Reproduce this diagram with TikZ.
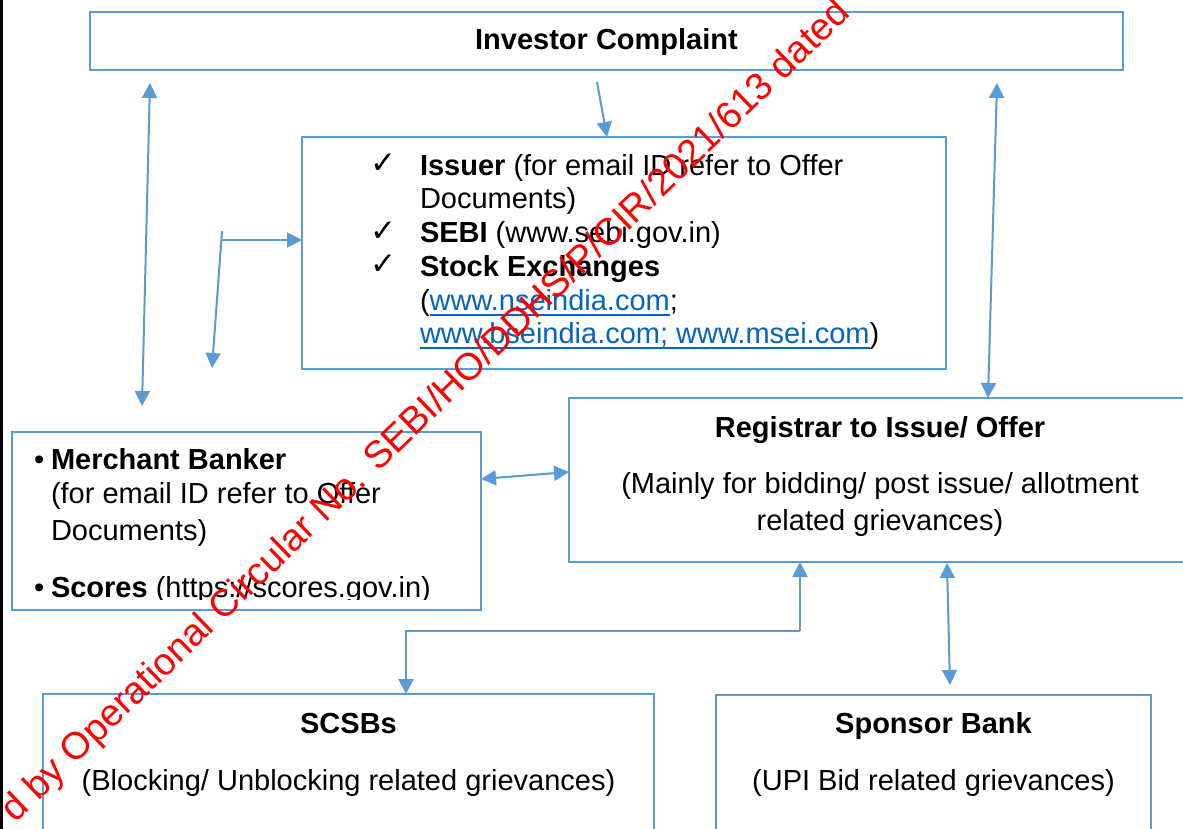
\documentclass[tikz,border=0pt]{standalone}
\usepackage{fontspec}
\setmainfont{Liberation Sans}
\newfontfamily\symfont{DejaVu Sans}
\usetikzlibrary{arrows.meta,calc}
\definecolor{boxblue}{HTML}{5B9BD5}
\definecolor{linkblue}{HTML}{0563C1}
\newsavebox{\linkbox}
\newcommand{\weblink}[1]{{\color{linkblue}\sbox{\linkbox}{#1}\rlap{\vrule width\wd\linkbox height -4pt depth 6.2pt}\usebox{\linkbox}}}
\begin{document}
\begin{tikzpicture}[x=1pt,y=-1pt,
  every node/.style={inner sep=0pt, outer sep=0pt, font=\fontsize{29}{34}\selectfont},
  box/.style={draw=boxblue, line width=2.5pt, anchor=north west},
  arr/.style={draw=boxblue, line width=2pt, -{Triangle[length=15pt,width=15pt]}},
  darr/.style={draw=boxblue, line width=2pt, {Triangle[length=15pt,width=15pt]}-{Triangle[length=15pt,width=15pt]}},
  txt/.style={anchor=base west},
  ctxt/.style={anchor=base},
  ck/.style={anchor=base west, font=\symfont\fontsize{31}{34}\selectfont},
]
\useasboundingbox (0,0) rectangle (1183,829);
\clip (0,0) rectangle (1183,829);
\fill[white] (0,0) rectangle (1183,829);

% left page border
\draw[line width=2.5pt] (1.25,0) -- (1.25,829);

% Investor Complaint
\node[box, minimum width=1033pt, minimum height=58pt] (ic) at (90,12) {};
\node[ctxt] (icT) at (606.5,50) {\bfseries Investor Complaint};

% Issuer box
\node[box, minimum width=644pt, minimum height=232pt] (iss) at (302,137) {};
\node[ck] (ck1) at (370,174) {✓};
\node[txt] (is1) at (420,176) {\textbf{Issuer} (for email ID refer to Offer};
\node[txt] (is2) at (420,209) {Documents)};
\node[ck] (ck2) at (370,241) {✓};
\node[txt] (is3) at (420,243) {\textbf{SEBI} (www.sebi.gov.in)};
\node[ck] (ck3) at (370,274) {✓};
\node[txt] (is4) at (420,276) {\textbf{Stock Exchanges}};
\node[txt] (is5) at (420,310) {(\weblink{www.nseindia.com};};
\node[txt] (is6) at (420,343) {\weblink{www.bseindia.com; www.msei.com})};

% Merchant banker box
\node[box, minimum width=469pt, minimum height=178pt] (mb) at (12,432) {};
\node[txt] (mbB1) at (34,469) {•};
\node[txt] (mb1) at (51,469) {\textbf{Merchant Banker}};
\node[txt] (mb2) at (51,503) {(for email ID refer to Offer};
\node[txt] (mb3) at (51,540) {Documents)};
\begin{scope}
  \clip (20,560) rectangle (478,599);
  \node[txt] (mbB2) at (34,597) {•};
  \node[txt] (mb4) at (51,597) {\textbf{Scores} (https://scores.gov.in)};
\end{scope}

% Registrar box
\node[box, minimum width=622pt, minimum height=164pt] (reg) at (569,398) {};
\node[ctxt] (reg1) at (880,437) {\bfseries Registrar to Issue/ Offer};
\node[ctxt] (reg2) at (880,493) {(Mainly for bidding/ post issue/ allotment};
\node[ctxt] (reg3) at (880,530) {related grievances)};

% SCSBs box
\node[box, minimum width=611pt, minimum height=160pt] (scsb) at (43,694) {};
\node[ctxt] (scsb1) at (348.5,733) {\bfseries SCSBs};
\node[ctxt] (scsb2) at (348.5,790) {(Blocking/ Unblocking related grievances)};

% Sponsor bank box
\node[box, minimum width=435pt, minimum height=160pt] (spb) at (716,695) {};
\node[ctxt] (spb1) at (933.5,733) {\bfseries Sponsor Bank};
\node[ctxt] (spb2) at (933.5,790) {(UPI Bid related grievances)};

% connectors
\coordinate (a1s) at (597,82);
\draw[arr] (a1s) -- ($(iss.north west)+(305,0)$);

\coordinate (a2t) at (150,83);
\coordinate (a2b) at (142,406);
\draw[darr] (a2t) -- (a2b);

\coordinate (e1) at (222,231);
\coordinate (e1d) at (212,368);
\coordinate (e1h) at (221,240);
\draw[arr] (e1) -- (e1d);
\draw[arr] (e1h) -- (e1h -| iss.west);

\coordinate (a4t) at (997,83);
\draw[darr] (a4t) -- ($(reg.north west)+(419,0)$);

\draw[darr] ($(mb.north east)+(0,47)$) -- ($(reg.north west)+(0,74)$);

\coordinate (k1) at (800,631);
\coordinate (k2) at (406,631);
\draw[arr] (k1) -- (k1 |- reg.south);
\draw[arr] (k1) -- (k2) -- (k2 |- scsb.north);

\coordinate (a7t) at (947,563);
\coordinate (a7b) at (950,685);
\draw[darr] (a7t) -- (a7b);

% watermark
\node[text=red, font=\fontsize{38}{40}\selectfont, rotate=44] (wm) at (427,412)
  {d by Operational Circular No. SEBI/HO/DDHS/P/CIR/2021/613 dated};
\end{tikzpicture}
\end{document}
